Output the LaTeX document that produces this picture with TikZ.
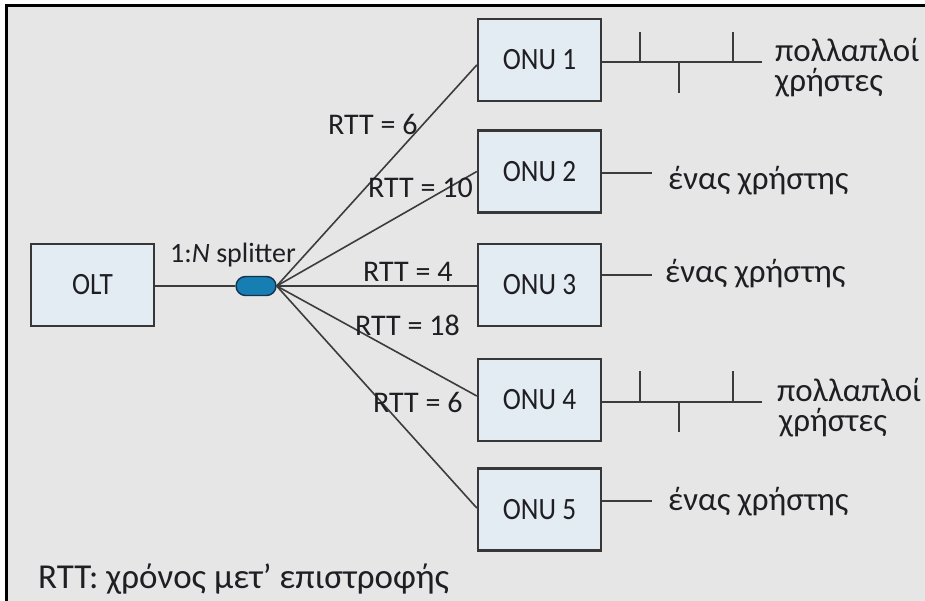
\documentclass[tikz,border=0pt]{standalone}
\usepackage{fontspec}
\setmainfont{Carlito}
\usetikzlibrary{shapes.misc,calc}

\definecolor{bg}{RGB}{230,230,230}
\definecolor{boxfill}{RGB}{228,236,243}
\definecolor{boxline}{RGB}{55,55,55}
\definecolor{wirec}{RGB}{60,60,60}
\definecolor{splfill}{RGB}{22,126,178}
\definecolor{splline}{RGB}{20,50,75}
\definecolor{ink}{RGB}{30,30,35}

\newcommand\fs[1]{\fontsize{#1}{#1}\selectfont}
\newcommand\cond[1]{\scalebox{0.88}[1]{#1}}

\begin{document}
\begin{tikzpicture}[x=1pt,y=-1pt,
  unit/.style={draw=boxline, line width=2.4pt, fill=boxfill, minimum width=123pt,
               minimum height=82pt, inner sep=0pt, text=ink, font=\fs{31}},
  wire/.style={draw=wirec, line width=1.6pt},
  bus/.style={draw=wirec, line width=2pt},
  rtt/.style={anchor=base west, inner sep=0pt, text=ink, font=\fs{30}},
  users/.style={anchor=base west, inner sep=0pt, text=ink, font=\fs{33}, align=left},
  splitter/.style={rounded rectangle, draw=splline, line width=1.4pt, fill=splfill,
                   minimum width=40pt, minimum height=19pt, inner sep=0pt}]

% canvas and frame
\useasboundingbox (0,0) rectangle (925,601);
\fill[white] (0,0) rectangle (925,601);
\fill[bg] (7,6) rectangle (925,601);
\draw[black, line width=3pt] (925,6) -- (6,6) -- (6,601);

% equipment
\node[unit] (olt) at (92.5,285) {\cond{OLT}};
\node[splitter] (spl) at (256,286) {};
\node[unit] (onu1) at (539.5,60)    {\cond{ONU 1}};
\node[unit] (onu2) at (539.5,171.5) {\cond{ONU 2}};
\node[unit] (onu3) at (539.5,285)   {\cond{ONU 3}};
\node[unit] (onu4) at (539.5,400)   {\cond{ONU 4}};
\node[unit] (onu5) at (539.5,509.5) {\cond{ONU 5}};

% feeder and drop fibres
\draw[wire] (olt.east |- spl) -- (spl.west);
\draw[wire] (spl.east) -- ($(onu1.west)+(0,5)$);
\draw[wire] (spl.east) -- ($(onu2.west)+(0,0)$);
\draw[wire] (spl.east) -- (onu3.west |- spl);
\draw[wire] (spl.east) -- ($(onu4.west)+(0,-4)$);
\draw[wire] (spl.east) -- ($(onu5.west)+(0,-1.5)$);

% labels on the fibres
\node[rtt, font=\fs{28}] (sp) at (170,263) {1:\textit{N} splitter};
\node[rtt] (r1) at (328,135) {RTT = 6};
\node[rtt] (r2) at (368,198) {RTT = 10};
\node[rtt] (r3) at (363,282) {RTT = 4};
\node[rtt] (r4) at (355,335) {RTT = 18};
\node[rtt] (r5) at (373,412) {RTT = 6};

% multi-user buses
\coordinate (b1) at (762,62.5);
\coordinate (b4) at (762,401.5);
\foreach \b/\o in {b1/onu1, b4/onu4}{
  \draw[bus] (\o.east |- \b) -- (\b);
  \draw[bus] (640,0 |- \b) -- ++(0,-30.5);
  \draw[bus] (733,0 |- \b) -- ++(0,-30.5);
  \draw[bus] (679,0 |- \b) -- ++(0,30.5);
}
\node[users] (m1a) at (775,62) {πολλαπλοί};
\node[users] (m1b) at (775,92) {χρήστες};
\node[users] (m4a) at (777,401) {πολλαπλοί};
\node[users] (m4b) at (779,431) {χρήστες};

% single-user drops
\coordinate (d2) at (652,173);
\coordinate (d3) at (652,275);
\coordinate (d5) at (652,501);
\draw[bus] (onu2.east |- d2) -- (d2);
\draw[bus] (onu3.east |- d3) -- (d3);
\draw[bus] (onu5.east |- d5) -- (d5);
\node[users] (s2) at (668,190) {ένας χρήστης};
\node[users] (s3) at (665,283) {ένας χρήστης};
\node[users] (s5) at (668,510) {ένας χρήστης};

% legend
\node[anchor=base west, inner sep=0pt, text=ink, font=\fs{35}] (legend) at (38,588)
  {RTT: χρόνος μετ’ επιστροφής};
\end{tikzpicture}
\end{document}
